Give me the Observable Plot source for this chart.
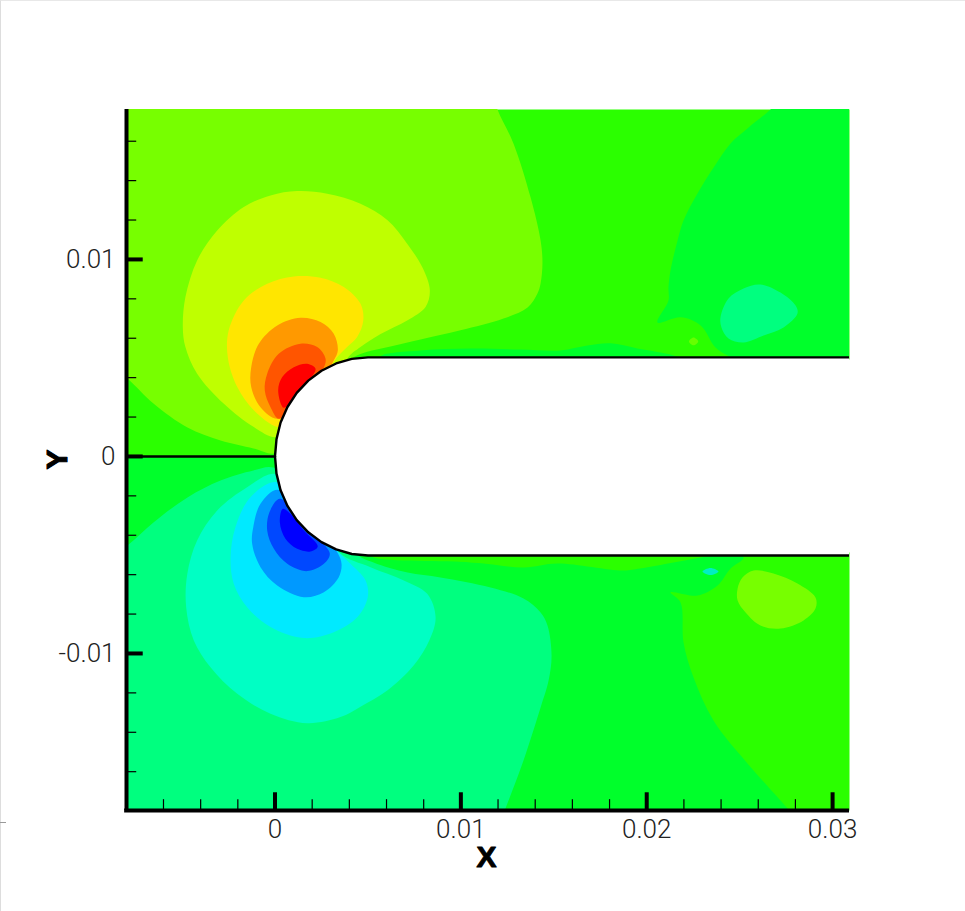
<!DOCTYPE html>
<html><head><meta charset="utf-8">
<script src="https://cdn.jsdelivr.net/npm/d3@7"></script>
<script src="https://cdn.jsdelivr.net/npm/@observablehq/plot@0.6"></script>
<style>
html,body{margin:0;padding:0;background:#fff}
#page-edge{position:absolute;left:0;top:0;width:964px;height:910px;border-left:1px solid #ddd;border-top:1px solid #e8e8e8;pointer-events:none}
#page-nick{position:absolute;left:0;top:822px;width:6px;height:1px;background:#999;pointer-events:none}
svg{display:block}
</style></head><body>
<div id="chart"></div><div id="page-edge"></div><div id="page-nick"></div>
<script>
// All coordinates in units of 1e-3 (tick labels show the real values).
const xDomain = [-7.99, 30.91];
const yDomain = [-17.97, 17.61];
const xMajor = [0, 10, 20, 30];
const yMajor = [-10, 0, 10];
const xMinor = [-6, -4, -2, 2, 4, 6, 8, 12, 14, 16, 18, 22, 24, 26, 28];
const yMinor = [-16, -14, -12, -8, -6, -4, -2, 2, 4, 6, 8, 12, 14, 16];

const limeTop = [[-10,19],[11.6,18.83],[11.97,17.61],[12.83,15.89],[13.75,13.15],[14.29,10.96],[14.39,9.8],[14.29,8.78],[14.12,8.27],[13.59,7.56],[12.29,7.0],[9.98,6.4],[7.83,5.94],[6.21,5.58],[4.22,5.03],[2,3],[0.2,0.5],[-0.08,0.15],[-1.16,0.41],[-2.93,0.81],[-4.71,1.47],[-6.54,2.69],[-7.94,3.96],[-8.85,4.6],[-10,6]];
const yellowGreen = [[0.03,0.98],[-1.14,1.49],[-2.75,2.67],[-4.19,4.2],[-4.82,5.55],[-4.96,6.56],[-4.82,8.09],[-4.19,9.95],[-3.11,11.47],[-1.68,12.66],[-0.24,13.25],[1.19,13.47],[2.81,13.34],[4.6,12.83],[6.04,12.0],[7.11,10.8],[7.92,9.61],[8.33,8.43],[8.1,7.59],[7.11,6.9],[5.68,6.21],[4.6,5.55],[3.88,4.96],[3,3],[1,1.5]];
const yellow = [[0.12,1.49],[-1.14,2.34],[-2.03,3.52],[-2.54,5.04],[-2.49,6.4],[-1.68,7.92],[-0.42,8.77],[1.01,9.14],[2.45,9.07],[3.7,8.6],[4.6,7.75],[4.75,6.9],[4.42,6.06],[3.88,5.55],[3.16,4.79],[2.5,3],[1,1.5]];
const orange = [[0.12,1.91],[-0.78,2.5],[-1.28,3.52],[-1.28,4.53],[-0.87,5.72],[0.12,6.65],[1.37,7.04],[2.45,6.82],[3.16,6.23],[3.38,5.38],[3.16,4.87],[2.3,3.5],[1,2.4]];
const redOrange = [[0.2,1.91],[-0.24,2.5],[-0.55,3.35],[-0.42,4.2],[0.2,5.21],[1.37,5.72],[2.27,5.55],[2.72,4.96],[2.63,4.53],[1.7,3.5],[0.8,2.4]];
const red = [[0.47,2.47],[0.17,3.35],[0.39,4.03],[1.01,4.53],[1.73,4.7],[2.18,4.45],[1.9,3.94],[1,3]];

const greenTopRight = [[28,18.83],[26.66,17.61],[25.42,16.65],[24.51,15.89],[23.6,14.67],[22.73,13.35],[21.98,11.98],[21.66,10.96],[21.28,9.44],[21.17,8.58],[21.17,7.92],[20.58,6.8],[21.82,7.06],[22.9,6.65],[23.7,5.53],[24.35,5.13],[25.3,4.77],[33.65,4.77],[33.65,18.83]];
const wallStripTop = [[5.68,5.08],[7.83,5.38],[10.52,5.48],[13.21,5.43],[15.36,5.38],[16.81,5.63],[18.05,5.74],[19.5,5.48],[21.44,5.13],[22.36,4.77],[5.68,4.77]];
const blobTop = [[23.97,7.06],[24.4,8.02],[25.21,8.53],[26.12,8.73],[27.2,8.32],[28.01,7.66],[28.11,7.26],[27.36,6.55],[26.29,6.14],[25.21,5.79],[24.4,5.99],[24.02,6.55]];
const dotTop = [[22.27,5.84],[22.52,6.04],[22.77,5.84],[22.52,5.64]];

const greenLower = [[-10.2,0],[-10,0],[-9.8,0],[-5,0],[0,0],[8,0],[8,-4.7],[24,-4.7],[25.21,-5.13],[24.51,-5.69],[23.81,-6.55],[22.73,-7.06],[21.28,-6.9],[21.82,-7.41],[21.98,-9.44],[22.52,-11.22],[23.59,-13.4],[25.42,-15.58],[27.58,-17.87],[28.55,-18.98],[28.6,-20],[-10,-20],[-10,-10]];
const wallStripBottom = [[4.98,-4.92],[5.3,-5.13],[10.68,-5.38],[13.37,-5.63],[15.2,-5.43],[18.75,-5.79],[19.64,-5.69],[21.44,-5.38],[22.9,-5.13],[23.97,-4.92],[15,-4.6]];
const spring = [[-7.94,-4.52],[-6.54,-3.35],[-4.71,-2.08],[-2.93,-1.22],[-1.16,-0.71],[-0.08,-0.56],[2,-2],[4.33,-4.92],[5.3,-5.38],[7.13,-5.89],[8.9,-6.14],[11.6,-6.65],[13.37,-7.21],[14.29,-7.92],[14.66,-8.58],[14.88,-10.1],[14.72,-11.37],[14.29,-12.74],[13.37,-15.43],[12.4,-17.87],[11.86,-19.2],[-10,-20],[-10,-5.9]];
const aqua = [[0.03,-0.88],[-1.5,-1.56],[-3.11,-2.74],[-4.19,-4.26],[-4.72,-5.96],[-4.78,-7.65],[-4.37,-9.34],[-3.47,-10.7],[-2.03,-12.05],[-0.24,-13.06],[1.73,-13.54],[3.52,-13.23],[4.6,-12.7],[6.04,-11.88],[7.47,-10.6],[8.3,-9.34],[8.64,-8.16],[8.19,-6.97],[6.93,-6.29],[5.14,-5.62],[3.43,-4.86],[2,-2.5]];
const cyan = [[0.08,-1.3],[-1.32,-2.07],[-2.13,-3.59],[-2.39,-5.11],[-2.22,-6.46],[-1.5,-7.65],[-0.24,-8.66],[1.55,-9.22],[3.16,-8.92],[4.42,-8.16],[4.99,-7.14],[4.87,-6.29],[4.06,-5.45],[3.43,-4.86],[2,-3]];
const blueLight = [[0.15,-1.69],[-0.78,-2.4],[-1.17,-3.59],[-1.23,-4.43],[-0.78,-5.62],[0.12,-6.55],[1.55,-7.14],[2.63,-6.89],[3.43,-6.13],[3.58,-5.45],[3.35,-4.86],[1.8,-3]];
const blueMid = [[0.26,-2.15],[-0.3,-2.83],[-0.42,-3.76],[-0.06,-4.69],[0.66,-5.45],[1.73,-5.82],[2.63,-5.45],[2.95,-4.94],[2.45,-4.26],[1.2,-3]];
const blueDeep = [[0.42,-2.66],[0.26,-3.34],[0.56,-4.18],[1.19,-4.69],[1.91,-4.82],[2.3,-4.57],[1.55,-3.76],[0.83,-2.91]];
const blobBottom = [[24.89,-6.7],[25.15,-6.14],[25.75,-5.79],[26.82,-5.94],[28.11,-6.45],[29.08,-7.16],[29.08,-7.72],[28.44,-8.32],[27.2,-8.73],[26.12,-8.58],[25.32,-7.92],[24.89,-7.31]];
const dotBottom = [[23.0,-5.84],[23.43,-5.66],[23.86,-5.84],[23.43,-6.02]];

// Channel wall outline, top right round the nose to bottom right.
const wall = [[31.6,5.03],[5,5.03],[4.13,4.95],[3.29,4.72],[2.5,4.35],[1.79,3.85],[1.17,3.23],[0.67,2.51],[0.3,1.72],[0.08,0.87],[0,0],[0.08,-0.87],[0.3,-1.72],[0.67,-2.51],[1.17,-3.23],[1.79,-3.85],[2.5,-4.35],[3.29,-4.72],[4.13,-4.95],[5,-5.03],[31.6,-5.03]];
const leadLine = [[-7.99,0],[0,0]];

const layers = [
  ["#00ff2b", greenLower], ["#2bff00", wallStripBottom],
  ["#00ff2b", greenTopRight], ["#00ff2b", wallStripTop],
  ["#00ff7f", blobTop], ["#77ff00", blobBottom], ["#66ff00", dotTop],
  ["#77ff00", limeTop], ["#bfff00", yellowGreen], ["#ffe600", yellow],
  ["#ff9900", orange], ["#ff5500", redOrange], ["#ff0000", red],
  ["#00ff7f", spring], ["#00ffc4", aqua], ["#00eaff", cyan],
  ["#0099ff", blueLight], ["#0048ff", blueMid], ["#0000ff", blueDeep],
  ["#00eec4", dotBottom]
];

const px = d => d[0], py = d => d[1];
const tickFont = {fontSize: 26, fontWeight: 300, fontFamily: "Roboto, 'Liberation Sans', sans-serif", fill: "#222"};
const fmt = d => d === 0 ? "0" : String(d / 1000);

const chart = Plot.plot({
  width: 965, height: 911,
  marginLeft: 126, marginRight: 116, marginTop: 109, marginBottom: 101,
  x: {domain: xDomain},
  y: {domain: yDomain},
  style: {background: "white"},
  marks: [
    Plot.frame({fill: "#2bff00", stroke: "none"}),
    ...layers.map(([c, pts]) => Plot.line(pts, {x: px, y: py, fill: c, stroke: "none", curve: "catmull-rom-closed", clip: true})),
    Plot.line(wall, {x: px, y: py, fill: "white", stroke: "none", clip: true}),
    Plot.ruleX([xDomain[1]], {y1: -4.9, y2: 4.9, stroke: "white", strokeWidth: 2}),
    Plot.line(wall, {x: px, y: py, stroke: "black", strokeWidth: 2.4, strokeLinejoin: "round", clip: true}),
    Plot.line(leadLine, {x: px, y: py, stroke: "black", strokeWidth: 2.4}),
    Plot.ruleX(xMinor, {y1: yDomain[0], y2: yDomain[0] + 0.55, stroke: "black", strokeWidth: 1.2}),
    Plot.ruleX(xMajor, {y1: yDomain[0], y2: yDomain[0] + 0.9, stroke: "black", strokeWidth: 4}),
    Plot.ruleY(yMinor, {x1: xDomain[0], x2: xDomain[0] + 0.55, stroke: "black", strokeWidth: 1.2}),
    Plot.ruleY(yMajor, {x1: xDomain[0], x2: xDomain[0] + 0.9, stroke: "black", strokeWidth: 4}),
    Plot.ruleX([xDomain[0]], {y1: yDomain[0], y2: yDomain[1], stroke: "black", strokeWidth: 4}),
    Plot.ruleY([yDomain[0]], {x1: xDomain[0] - 0.1, x2: xDomain[1], stroke: "black", strokeWidth: 4}),
    Plot.axisX({ticks: xMajor, tickFormat: fmt, tickSize: 0, tickPadding: 9, label: null, ...tickFont}),
    Plot.axisY({ticks: yMajor, tickFormat: fmt, tickSize: 0, tickPadding: 11, label: null, ...tickFont}),
    Plot.text(["X"], {x: [11.38], y: [-20.36], fontSize: 30, fontWeight: 700, fontFamily: "'Liberation Sans', sans-serif", fill: "black", stroke: "black", strokeWidth: 1}),
    Plot.text(["Y"], {x: [-11.7], y: [-0.15], rotate: -90, fontSize: 30, fontWeight: 700, fontFamily: "'Liberation Sans', sans-serif", fill: "black", stroke: "black", strokeWidth: 1})
  ]
});
document.getElementById("chart").append(chart);
</script>
</body></html>
